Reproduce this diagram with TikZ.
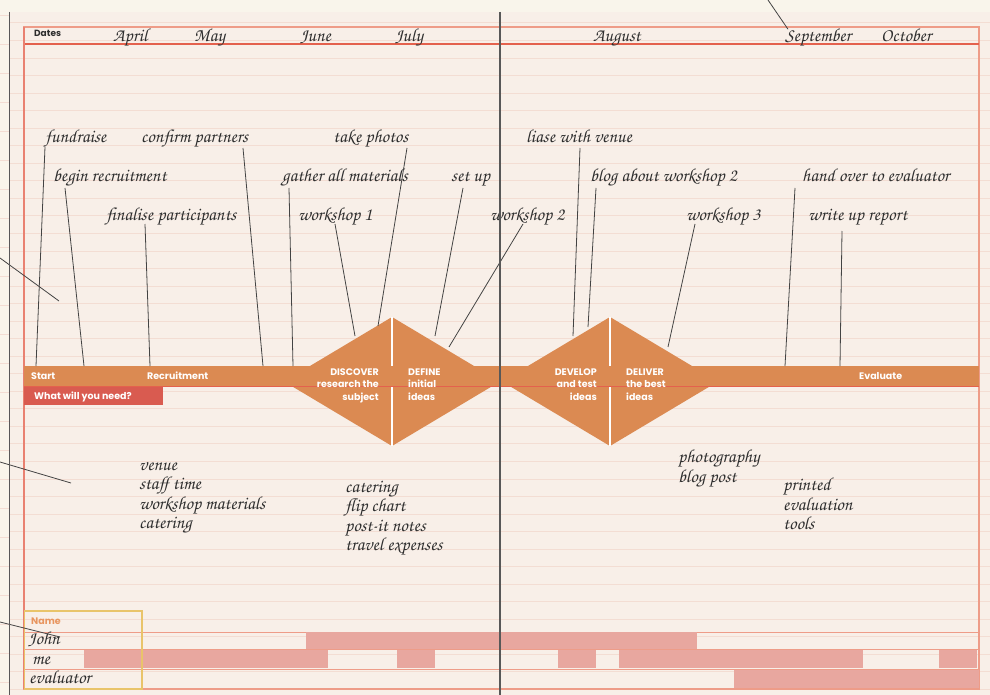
\documentclass[tikz,border=0pt]{standalone}
\usepackage{fontspec}
\setsansfont{Poppins}
\newfontfamily\handfont{TeX Gyre Chorus}

\definecolor{paper}{HTML}{F9F5EB}
\definecolor{page}{HTML}{F8EFE8}
\definecolor{ruling}{HTML}{F3DDD3}
\definecolor{band}{HTML}{DB8A52}
\definecolor{framecol}{HTML}{EE9C88}
\definecolor{margincol}{HTML}{E4614D}
\definecolor{needcol}{HTML}{D95B50}
\definecolor{barcol}{HTML}{E8A79F}
\definecolor{namebox}{HTML}{E9C46A}
\definecolor{nametext}{HTML}{E8955F}
\definecolor{ink}{HTML}{2E2E2E}

\tikzset{
  hand/.style={font=\handfont\fontsize{18.5}{19.5}\selectfont, text=ink, inner sep=0pt, anchor=base west, align=left},
  tag/.style={font=\sffamily\bfseries\fontsize{9.5}{12.3}\selectfont, text=white, inner sep=0pt},
  lead/.style={draw=ink!90, line width=0.8pt},
}

\begin{document}
\begin{tikzpicture}[x=1pt,y=-1pt]
  \useasboundingbox (0,0) rectangle (990,695);
  % paper and ruling
  \fill[paper] (0,0) rectangle (990,695);
  \fill[page] (9,12) rectangle (990,695);
  \foreach \k in {0,...,38}
    \draw[ruling, line width=0.8pt] (9,22.9+17.54*\k) -- (990,22.9+17.54*\k);
  \foreach \k in {0,...,23}
    \draw[ruling, line width=0.8pt] (0,15+29*\k) -- (9,15+29*\k);

  % frame
  \draw[framecol, line width=1.5pt] (24,27) rectangle (979,689);
  \draw[margincol, line width=1.2pt] (24,44) -- (979,44);
  \draw[margincol!80, line width=1.2pt] (24,27) -- (24,689);
  \node[tag, text=ink, font=\sffamily\bfseries\fontsize{9}{10}\selectfont, anchor=base west] (dates) at (34,37) {Dates};

  % months
  \node[hand] (april) at (113,42) {April};
  \node[hand] (may) at (194,42) {May};
  \node[hand] (june) at (300,42) {June};
  \node[hand] (july) at (395,42) {July};
  \node[hand] (august) at (593,42) {August};
  \node[hand] (september) at (785,42) {September};
  \node[hand] (october) at (881,42) {October};

  % diamonds and band
  \fill[band] (284,381.5) -- (392,317) -- (500,381.5) -- (392,446) -- cycle;
  \fill[band] (502,381.5) -- (610,317) -- (718,381.5) -- (610,446) -- cycle;
  \fill[band] (24,366) rectangle (979,386);
  \draw[margincol, line width=1pt] (24,386.5) -- (979,386.5);
  \draw[white, line width=1.6pt] (392,317) -- (392,366) (392,387) -- (392,446);
  \draw[white, line width=1.6pt] (610,317) -- (610,366) (610,387) -- (610,446);
  \fill[needcol] (24,387) rectangle (163,405);

  \node[tag, anchor=base west] (start) at (31,379) {Start};
  \node[tag, anchor=base west] (recruit) at (147,379) {Recruitment};
  \node[tag, anchor=base west] (evaluate) at (859,379) {Evaluate};
  \node[tag, anchor=base west] (need) at (34,399) {What will you need?};
  \node[tag, align=right, anchor=base east] (discover) at (379,400) {DISCOVER\\research the\\subject};
  \node[tag, align=left, anchor=base west] (define) at (408,400) {DEFINE\\initial\\ideas};
  \node[tag, align=right, anchor=base east] (develop) at (597,400) {DEVELOP\\and test\\ideas};
  \node[tag, align=left, anchor=base west] (deliver) at (626,400) {DELIVER\\the best\\ideas};

  % tasks
  \node[hand] (fundraise) at (45,143) {fundraise};
  \node[hand] (partners) at (141,143) {confirm partners};
  \node[hand] (photos) at (333,143) {take photos};
  \node[hand] (venue) at (526,143) {liase with venue};
  \node[hand] (begin) at (53,182) {begin recruitment};
  \node[hand] (gather) at (282,182) {gather all materials};
  \node[hand] (setup) at (451,182) {set up};
  \node[hand] (blog) at (590,182) {blog about workshop 2};
  \node[hand] (handover) at (802,182) {hand over to evaluator};
  \node[hand] (finalise) at (106,221) {finalise participants};
  \node[hand] (ws1) at (298,221) {workshop 1};
  \node[hand] (ws2) at (490,221) {workshop 2};
  \node[hand] (ws3) at (686,221) {workshop 3};
  \node[hand] (report) at (808,221) {write up report};

  \coordinate (fundraise-end) at (36,366);
  \coordinate (partners-end) at (263,366);
  \coordinate (photos-end) at (378,326);
  \coordinate (venue-end) at (573,336);
  \coordinate (begin-end) at (84,366);
  \coordinate (gather-end) at (293,366);
  \coordinate (setup-end) at (435,336);
  \coordinate (blog-end) at (588,327);
  \coordinate (handover-end) at (785,366);
  \coordinate (finalise-end) at (150,366);
  \coordinate (ws1-end) at (355,336);
  \coordinate (ws2-end) at (449,347);
  \coordinate (ws3-end) at (668,347);
  \coordinate (report-end) at (840,366);

  \draw[lead] (fundraise.base west) ++(0,4) -- (fundraise-end);
  \draw[lead] (partners.base west) ++(102,5) -- (partners-end);
  \draw[lead] (photos.base west) ++(74,5) -- (photos-end);
  \draw[lead] (venue.base west) ++(54,5) -- (venue-end);
  \draw[lead] (begin.base west) ++(12,6) -- (begin-end);
  \draw[lead] (gather.base west) ++(7,6) -- (gather-end);
  \draw[lead] (setup.base west) ++(12,6) -- (setup-end);
  \draw[lead] (blog.base west) ++(6,6) -- (blog-end);
  \draw[lead] (handover.base west) ++(-7,6) -- (handover-end);
  \draw[lead] (finalise.base west) ++(39,3) -- (finalise-end);
  \draw[lead] (ws1.base west) ++(37,3) -- (ws1-end);
  \draw[lead] (ws2.base west) ++(33,3) -- (ws2-end);
  \draw[lead] (ws3.base west) ++(9,3) -- (ws3-end);
  \draw[lead] (report.base west) ++(34,10) -- (report-end);

  % what is needed (anchored at the last line)
  \node[hand] (needs1) at (139,528.5) {venue\\staff time\\workshop materials\\catering};
  \node[hand] (needs2) at (345,550.5) {catering\\flip chart\\post-it notes\\travel expenses};
  \node[hand] (needs3) at (678,482) {photography\\blog post};
  \node[hand] (needs4) at (783,529.5) {printed\\evaluation\\tools};

  % who
  \foreach \y in {632,649.5,669}
    \draw[framecol, line width=1pt] (24,\y) -- (979,\y);
  \fill[barcol] (306,632) rectangle (697,649);
  \fill[barcol] (84,650) rectangle (328,668);
  \fill[barcol] (397,650) rectangle (435,668);
  \fill[barcol] (558,650) rectangle (596,668);
  \fill[barcol] (619,650) rectangle (863,668);
  \fill[barcol] (939,650) rectangle (977,668);
  \fill[barcol] (734,670) rectangle (979,688);
  \node[tag, text=nametext, anchor=base west] (name) at (31,624) {Name};
  \node[hand] (john) at (28,644) {John};
  \node[hand] (me) at (32,664) {me};
  \node[hand] (evaluator) at (29,683) {evaluator};
  \draw[namebox, line width=1.5pt] (24.5,611) rectangle (142,689);

  % notes from outside the page
  \coordinate (note1) at (0,258);
  \coordinate (note1-end) at (59,301);
  \coordinate (note2) at (0,462);
  \coordinate (note2-end) at (71,483);
  \coordinate (note3) at (0,622);
  \coordinate (note3-end) at (60,637);
  \coordinate (note4) at (768,0);
  \draw[lead] (note1) -- (note1-end);
  \draw[lead] (note2) -- (note2-end);
  \draw[lead] (note3) -- (note3-end);
  \draw[lead] (note4) -- ([xshift=3pt]september.north west);

  % binding lines
  \draw[ink!80, line width=0.9pt] (9,12) -- (9,695);
  \draw[ink!80, line width=1.4pt] (500,12) -- (500,695);
\end{tikzpicture}
\end{document}
